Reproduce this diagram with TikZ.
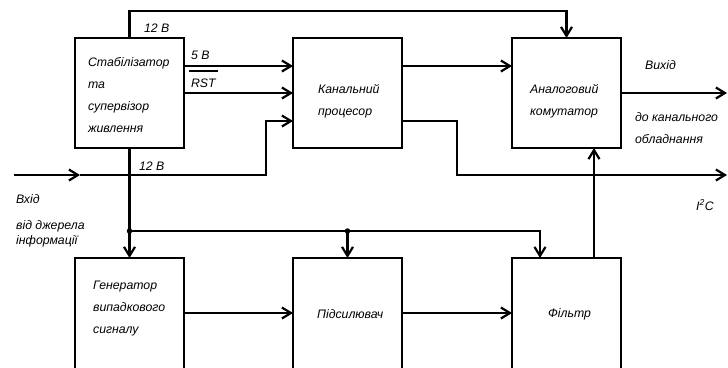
\documentclass[tikz,border=0pt]{standalone}
\usepackage{fontspec}
\setmainfont{Liberation Sans}
\usetikzlibrary{arrows.meta}
\begin{document}
\begin{tikzpicture}[x=1pt,y=-1pt, line width=2.2pt,
  blk/.style={draw, minimum width=109pt, minimum height=110pt, inner sep=0pt, outer sep=0pt, anchor=north west},
  lowblk/.style={blk, minimum height=125pt},
  lbl/.style={font=\itshape\fontsize{12.3}{22}\selectfont, align=left, anchor=west, inner sep=0pt},
  arr/.style={-{Straight Barb[length=9pt,width=11pt]}},
  jdot/.style={circle, fill, inner sep=0pt, minimum size=5.5pt}]
\useasboundingbox (0,0) rectangle (728,367);
\clip (0,0) rectangle (728,367);
% boxes
\node[blk] (stab) at (75,38) {};
\node[blk] (canal) at (293,38) {};
\node[blk] (analog) at (512,38) {};
\node[lowblk] (gen) at (75,258) {};
\node[lowblk] (pid) at (293,258) {};
\node[lowblk] (filt) at (512,258) {};
% coordinates
\coordinate (top) at (129.5,11);
\coordinate (in) at (14,175);
\coordinate (inm) at (80,175);
\coordinate (bendA) at (266,175);
\coordinate (bendB) at (266,121);
\coordinate (bendC) at (457,121);
\coordinate (bendD) at (457,175);
\coordinate (i2c) at (727,175);
\coordinate (outv) at (727,93);
\coordinate (fin) at (540,258);
\coordinate (up) at (594,258);
% connectors
\draw[arr] (stab.north) -- (top) -| (analog.north);
\draw[arr] (stab.east |- 0,66) -- (canal.west |- 0,66);
\draw[arr] (stab.east |- 0,93) -- (canal.west |- 0,93);
\draw[arr] (in) -- (inm);
\draw[arr] (inm) -- (bendA) -- (bendB) -- (canal.west |- bendB);
\draw[arr] (stab.south) -- (gen.north);
\node[jdot] (d1) at (129.5,231) {};
\node[jdot] (d2) at (pid.north |- d1) {};
\draw[arr] (d1.center) -- (d1 -| fin) -- (fin);
\draw[arr] (d2.center) -- (pid.north);
\draw[arr] (canal.east |- 0,66) -- (analog.west |- 0,66);
\draw[arr] (canal.east |- bendC) -- (bendC) -- (bendD) -- (i2c);
\draw[arr] (analog.east |- outv) -- (outv);
\draw[arr] (up) -- (analog.south -| up);
\draw[arr] (gen.east |- 0,313) -- (pid.west |- 0,313);
\draw[arr] (pid.east |- 0,313) -- (filt.west |- 0,313);
% texts
\node[lbl] (t1) at (87,95) {Стабілізатор\\та\\супервізор\\живлення};
\node[lbl] (t2) at (317,101) {Канальний\\процесор};
\node[lbl] (t3) at (529,101) {Аналоговий\\комутатор};
\node[lbl] (t4) at (92,309) {Генератор\\випадкового\\сигналу};
\node[lbl] (t5) at (316,314) {Підсилювач};
\node[lbl] (t6) at (547,314) {Фільтр};
\node[lbl] (t7) at (644,65) {Вихід};
\node[lbl] (t8) at (634,128.5) {до канального\\обладнання};
\node[lbl] (t9) at (695,205) {I\textsuperscript{2}C};
\node[lbl] (t10) at (15,199) {Вхід};
\node[lbl, font=\itshape\fontsize{12.3}{15}\selectfont] (t11) at (15,234) {від джерела\\інформації};
\node[lbl] (t12) at (143,28) {12 В};
\node[lbl] (t13) at (190,55) {5 В};
\node[lbl] (t14) at (190,83) {RST};
\draw[line width=1.8pt] (189,71) -- (218,71);
\node[lbl] (t15) at (138,166) {12 В};
\end{tikzpicture}
\end{document}
